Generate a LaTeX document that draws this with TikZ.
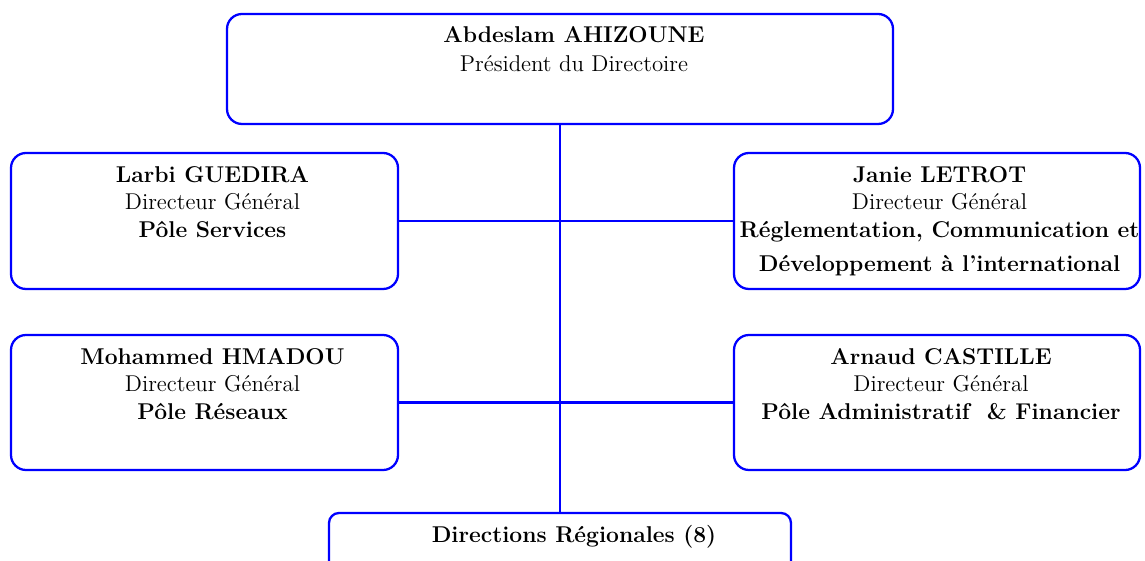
\documentclass[tikz,border=0pt]{standalone}
\usepackage{xcolor}
\usepackage{tikz}
\usetikzlibrary{positioning}

\begin{document}
\begin{tikzpicture}[
    box/.style={rectangle, draw=blue, line width=1.3pt, rounded corners=0.3cm},
    txt/.style={align=center, inner sep=0pt, font=\fontsize{13}{15.5}\selectfont},
    link/.style={draw=blue, line width=1.3pt}]
    \useasboundingbox (0,0) rectangle (22.9,11.2);
    \clip (0,0) rectangle (22.9,11.2);

    \node[box, minimum width=13.32cm, minimum height=2.2cm] (pres) at (11.2,9.82) {};
    \node[box, minimum width=7.74cm, minimum height=2.72cm] (guedira) at (4.09,6.78) {};
    \node[box, minimum width=8.12cm, minimum height=2.72cm] (letrot) at (18.74,6.78) {};
    \node[box, minimum width=7.74cm, minimum height=2.7cm] (hmadou) at (4.09,3.15) {};
    \node[box, minimum width=8.12cm, minimum height=2.7cm] (castille) at (18.74,3.15) {};
    \node[box, rounded corners=0.2cm, minimum width=9.24cm, minimum height=1.5cm] (regions) at (11.2,0.19) {};

    \node[txt, below=0.27cm of pres.north, xshift=0.28cm, font=\fontsize{13}{16.5}\selectfont] (presT) {\textbf{Abdeslam AHIZOUNE}\\Président du Directoire};
    \node[txt, below=0.29cm of guedira.north, xshift=0.16cm] (guedT) {\textbf{Larbi GUEDIRA}\\Directeur Général\\\textbf{Pôle Services}};
    \node[txt, below=0.29cm of letrot.north, xshift=0.05cm] (letrT) {\textbf{Janie LETROT}\\Directeur Général\\\textbf{Réglementation, Communication et}\\[4pt]\textbf{Développement à l'international}};
    \node[txt, below=0.29cm of hmadou.north, xshift=0.16cm] (hmadT) {\textbf{Mohammed HMADOU}\\Directeur Général\\\textbf{Pôle Réseaux}};
    \node[txt, below=0.29cm of castille.north, xshift=0.08cm] (castT) {\textbf{Arnaud CASTILLE}\\Directeur Général\\\textbf{Pôle Administratif~ \& Financier}};
    \node[txt, below=0.27cm of regions.north, xshift=0.28cm] (regT) {\textbf{Directions Régionales (8)}};

    \draw[link] (pres.south) -- (regions.north);
    \draw[link] (guedira.east) -- (letrot.west);
    \draw[link] (hmadou.east) -- (castille.west);
\end{tikzpicture}
\end{document}
